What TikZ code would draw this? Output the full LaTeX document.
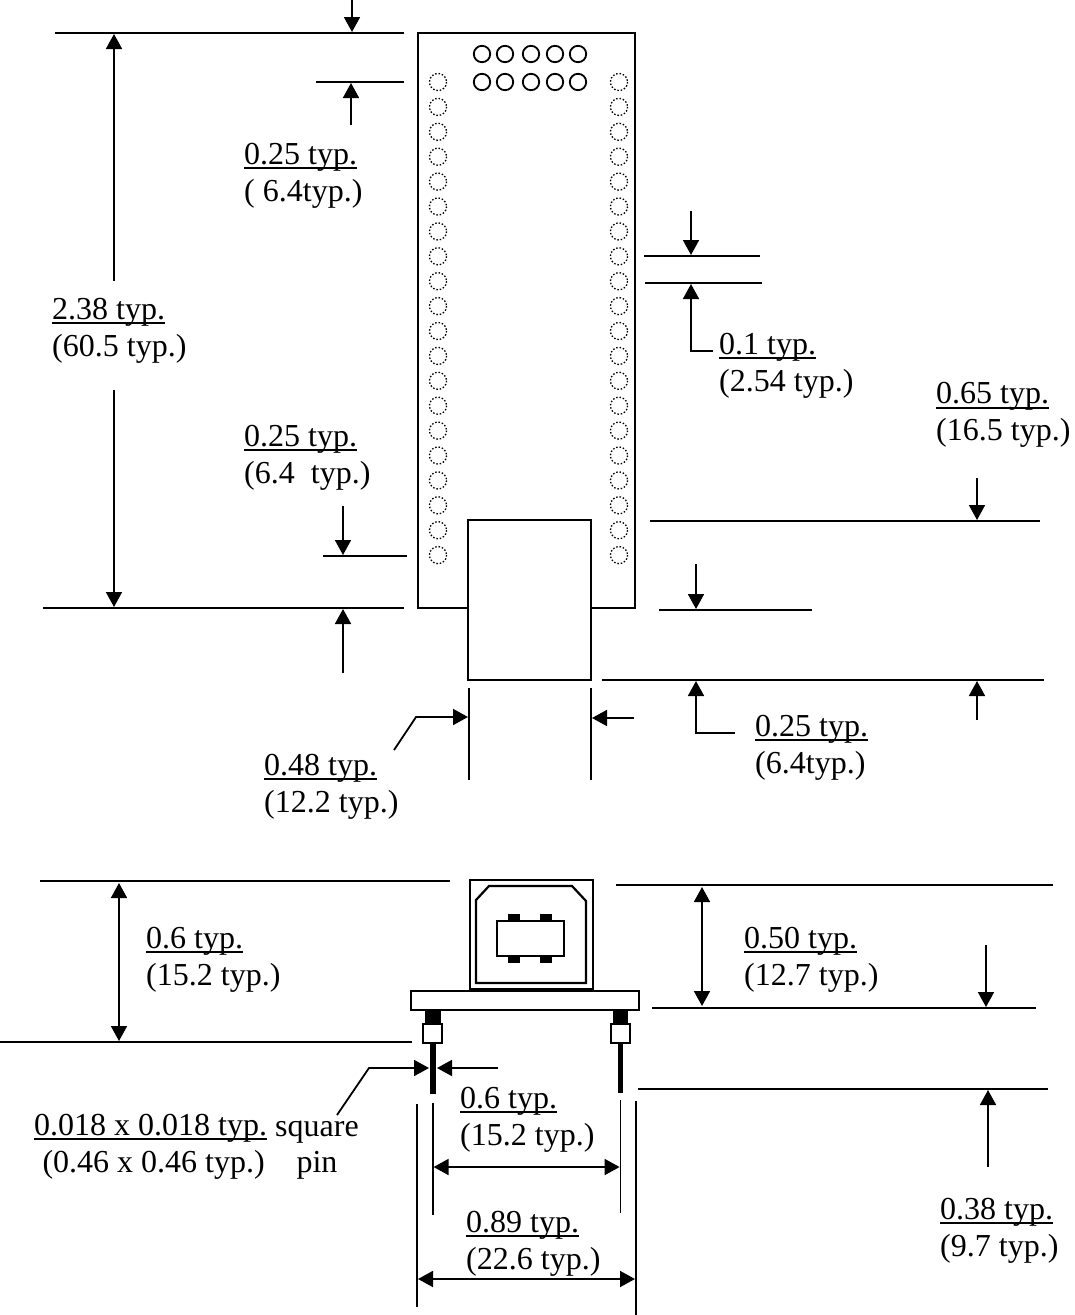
\documentclass[tikz,border=0pt]{standalone}
\usepackage{fontspec}
\setmainfont{Liberation Serif}
\usepackage{xcolor}
\usepackage{tikz}
\usetikzlibrary{arrows.meta,positioning,calc}

\newcommand{\typline}[1]{\sbox0{#1}\rlap{\rule[-5pt]{\wd0}{2pt}}\usebox0}

\tikzset{
  dimline/.style={line width=1.8pt},
  dimarrow/.style={line width=1.8pt, -{Triangle[length=15pt,width=16pt]}},
  dimboth/.style={line width=1.8pt, {Triangle[length=15pt,width=16pt]}-{Triangle[length=15pt,width=16pt]}},
  outline/.style={line width=2.2pt},
  dothole/.style={line width=1.3pt, dash pattern=on 1.5pt off 1.9pt},
  dimlabel/.style={anchor=north west, align=left, inner sep=0pt, font=\fontsize{32}{37}\selectfont},
}

\begin{document}
\begin{tikzpicture}[x=1pt,y=-1pt]
        \useasboundingbox (0,0) rectangle (1074,1315);

        % Board, top view
        \draw[outline] (418,33) rectangle (635,608);
        \foreach \x in {482,505,531,555,578} {
          \foreach \y in {54,82} {
            \draw[line width=1.8pt] (\x,\y) circle (8.2);
          }
        }
        \foreach \n in {0,...,19} {
          \draw[dothole] (438,82+24.9*\n) circle (8.6);
          \draw[dothole] (619,82+24.9*\n) circle (8.6);
        }
        \draw[outline, fill=white] (468,520) rectangle (591,680);

        % Left side of top view
        \draw[dimline] (55,33) -- (404,33);
        \draw[dimline] (316,82) -- (404,82);
        \draw[dimline] (323,556) -- (407,556);
        \draw[dimline] (43,608) -- (404,608);
        \draw[dimarrow] (352,0) -- (352,32);
        \draw[dimarrow] (351,125) -- (351,83);
        \draw[dimarrow] (343,506) -- (343,555);
        \draw[dimarrow] (343,673) -- (343,609);
        \draw[dimarrow] (114,281) -- (114,34);
        \draw[dimarrow] (114,390) -- (114,607);
        \node[dimlabel] (pitchedge) at (244,143) {\typline{0.25 typ.}\\( 6.4typ.)};
        \node[dimlabel] (length) at (52,298) {\typline{2.38 typ.}\\(60.5 typ.)};
        \node[dimlabel] (bottomedge) at (244,425) {\typline{0.25 typ.}\\(6.4~~typ.)};

        % Right side of top view
        \draw[dimline] (644,256) -- (760,256);
        \draw[dimline] (645,283) -- (762,283);
        \draw[dimline] (650,521) -- (1040,521);
        \draw[dimline] (659,610) -- (812,610);
        \draw[dimline] (602,680) -- (1044,680);
        \draw[dimarrow] (691,211) -- (691,255);
        \draw[dimarrow] (713,351) -- (691,351) -- (691,284);
        \draw[dimarrow] (977,478) -- (977,520);
        \draw[dimarrow] (696,564) -- (696,609);
        \draw[dimarrow] (735,733) -- (696,733) -- (696,681);
        \draw[dimarrow] (977,720) -- (977,681);
        \node[dimlabel] (pitch) at (719,333) {\typline{0.1 typ.}\\(2.54 typ.)};
        \node[dimlabel] (overhang) at (936,382.5) {\typline{0.65 typ.}\\(16.5 typ.)};
        \node[dimlabel] (connedge) at (755,715) {\typline{0.25 typ.}\\(6.4typ.)};

        % Connector width
        \draw[dimline] (469,688) -- (469,780);
        \draw[dimline] (591,688) -- (591,780);
        \draw[dimarrow] (394,750) -- (416,717) -- (468,717);
        \draw[dimarrow] (634,718) -- (592,718);
        \node[dimlabel] (connwidth) at (264,754) {\typline{0.48 typ.}\\(12.2 typ.)};

        % Connector, front view
        \draw[outline] (470,880) rectangle (593,989);
        \draw[outline] (476,900) -- (489,886) -- (572,886) -- (586,901) -- (586,983) -- (476,983) -- cycle;
        \draw[outline] (497,921) rectangle (564,956);
        \foreach \x in {508,540} {
          \fill (\x,914) rectangle ++(12,7);
          \fill (\x,956) rectangle ++(12,7);
        }
        \draw[outline] (411,991) rectangle (639,1010);

        % Pins
        \fill (425,1010) rectangle (441,1024);
        \draw[outline] (423,1024) rectangle (442,1043);
        \fill (430,1043) rectangle (436,1094);
        \fill (613,1010) rectangle (628,1024);
        \draw[outline] (611,1024) rectangle (630,1043);
        \fill (618,1043) rectangle (623,1093);

        % Left side of front view
        \draw[dimline] (40,881) -- (450,881);
        \draw[dimline] (0,1042) -- (412,1042);
        \draw[dimboth] (119,883) -- (119,1041);
        \draw[dimarrow] (337,1115) -- (369,1068) -- (429,1068);
        \draw[dimarrow] (498,1068) -- (437,1068);
        \node[dimlabel] (height) at (146,927) {\typline{0.6 typ.}\\(15.2 typ.)};
        \node[dimlabel, align=center] (pinsize) at (34,1114) {\typline{0.018 x 0.018 typ.}\\\hspace*{6pt}(0.46 x 0.46 typ.)};
        \node[dimlabel, anchor=base west] (pinnote) at (275,1136) {square};
        \node[dimlabel, anchor=base] (pinword) at (317,1172.5) {pin};

        % Right side of front view
        \draw[dimline] (616,885) -- (1053,885);
        \draw[dimline] (652,1008) -- (1036,1008);
        \draw[dimline] (638,1089) -- (1048,1089);
        \draw[dimboth] (702,887) -- (702,1006);
        \draw[dimarrow] (986,945) -- (986,1007);
        \draw[dimarrow] (988,1167) -- (988,1090);
        \node[dimlabel] (connheight) at (744,927) {\typline{0.50 typ.}\\(12.7 typ.)};
        \node[dimlabel] (pinlength) at (940,1198) {\typline{0.38 typ.}\\(9.7 typ.)};

        % Pin spacing
        \draw[dimline] (432.7,1103) -- (432.7,1215);
        \draw[dimline] (620.5,1100) -- (620.5,1213);
        \draw[dimline] (417,1104) -- (417,1307);
        \draw[dimline] (636,1101) -- (636,1315);
        \draw[dimboth] (433.6,1167) -- (619.6,1167);
        \draw[dimboth] (418,1279) -- (635,1279);
        \node[dimlabel] (pinpitch) at (460,1087) {\typline{0.6 typ.}\\(15.2 typ.)};
        \node[dimlabel] (boardwidth) at (466,1211) {\typline{0.89 typ.}\\(22.6 typ.)};
      \end{tikzpicture}
\end{document}
